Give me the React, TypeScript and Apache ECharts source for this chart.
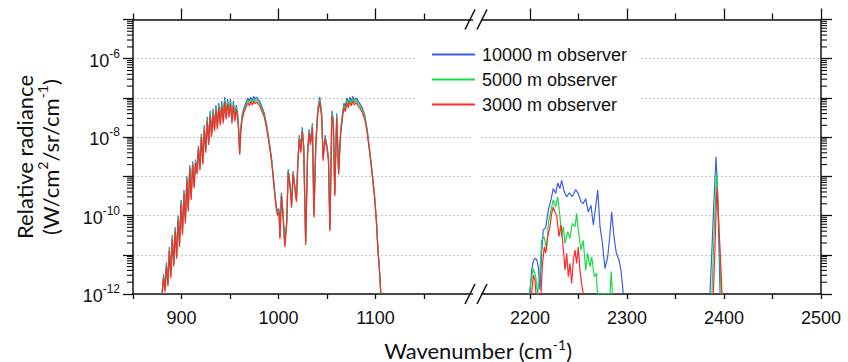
import React, { useEffect, useRef } from 'react';
import * as echarts from 'echarts';

// ---------- DATA (log10 of relative radiance) ----------
const seriesNames = ['10000 m observer', '5000 m observer', '3000 m observer'];
const seriesColors = ['#3a5fe8', '#19dc45', '#ff2a2a'];

// Left band (850-1200 cm-1), shared wavenumbers
const wnLeft = [880,881.5,883,884.5,886,887.5,889,890.5,892,893.5,895,896.5,898,899.5,901,902.5,904,905.5,907,908.5,910,911.5,913,914.5,916,917.5,919,920.5,922,923.5,925,926.5,928,929.5,931,932.5,934,935.5,937,938.5,940,941.5,943,944.5,946,947.5,949,950.5,952,953.5,955,956.5,958,959,960,961,962.5,964,965.5,967,968.5,970,971.5,973,974.5,976,977.5,979,981,983,985.5,988,990.5,993,995.5,997.5,999,1000.5,1001.5,1003,1004.5,1006.5,1008.5,1010,1012,1013.5,1015,1016.5,1018.5,1020,1021.5,1023,1024.5,1026,1028,1030,1031.5,1033,1035,1036.5,1038.5,1040.5,1042.5,1044.5,1046,1048,1050,1051.5,1053,1055,1056.5,1058,1060,1062,1064,1066,1067.5,1069,1070.5,1072,1073.5,1075,1076.5,1078,1080,1082,1084,1086.5,1089,1091.5,1094,1096.5,1099,1101,1102.5,1104,1105.5];
const logLeftBlue = [-12.0,-11.5,-11.85,-11.2,-11.7,-10.8,-11.5,-10.5,-11.2,-10.3,-11.0,-10.0,-10.7,-9.6,-10.4,-9.35,-10.1,-9.0,-9.8,-8.72,-9.5,-8.62,-9.2,-8.57,-8.87,-8.22,-8.77,-7.92,-8.62,-7.7,-8.32,-7.48,-8.12,-7.33,-7.92,-7.28,-7.75,-7.18,-7.7,-7.13,-7.6,-7.08,-7.55,-6.98,-7.43,-7.03,-7.38,-7.03,-7.55,-7.08,-7.48,-7.18,-7.43,-7.8,-8.37,-7.8,-7.43,-7.28,-7.18,-7.08,-7.0,-7.08,-6.98,-7.06,-6.96,-7.03,-6.98,-7.03,-7.1,-7.23,-7.4,-7.72,-8.12,-8.57,-9.22,-9.72,-9.92,-9.82,-10.52,-9.42,-9.87,-10.72,-10.12,-8.82,-9.22,-9.72,-8.87,-9.17,-9.57,-8.57,-7.95,-8.32,-7.75,-8.22,-10.67,-8.37,-7.8,-8.12,-7.65,-9.97,-8.12,-7.28,-6.98,-7.38,-8.52,-7.95,-8.22,-8.52,-10.32,-7.33,-7.55,-9.42,-7.4,-8.87,-7.85,-7.38,-7.13,-7.23,-7.0,-7.13,-6.98,-7.08,-6.96,-7.06,-7.0,-7.08,-7.15,-7.26,-7.45,-7.82,-8.32,-8.87,-9.47,-10.12,-10.82,-11.32,-12.0];
const logLeftGreen = [-12.0,-11.55,-11.9,-11.25,-11.75,-10.85,-11.55,-10.55,-11.25,-10.35,-11.05,-10.05,-10.75,-9.65,-10.45,-9.4,-10.15,-9.05,-9.85,-8.76,-9.55,-8.66,-9.25,-8.61,-8.91,-8.26,-8.81,-7.96,-8.66,-7.75,-8.36,-7.54,-8.16,-7.39,-7.96,-7.34,-7.8,-7.24,-7.75,-7.19,-7.65,-7.14,-7.6,-7.04,-7.49,-7.09,-7.44,-7.09,-7.6,-7.14,-7.54,-7.24,-7.49,-7.85,-8.41,-7.85,-7.49,-7.34,-7.24,-7.14,-7.06,-7.14,-7.04,-7.12,-7.02,-7.09,-7.04,-7.09,-7.16,-7.29,-7.45,-7.76,-8.16,-8.61,-9.26,-9.76,-9.96,-9.86,-10.56,-9.46,-9.91,-10.76,-10.16,-8.86,-9.26,-9.76,-8.91,-9.21,-9.61,-8.61,-8.0,-8.36,-7.8,-8.26,-10.71,-8.41,-7.85,-8.16,-7.7,-10.01,-8.16,-7.34,-7.04,-7.44,-8.56,-8.0,-8.26,-8.56,-10.36,-7.39,-7.6,-9.46,-7.45,-8.91,-7.9,-7.44,-7.19,-7.29,-7.06,-7.19,-7.04,-7.14,-7.02,-7.12,-7.06,-7.14,-7.21,-7.32,-7.5,-7.86,-8.36,-8.91,-9.51,-10.16,-10.86,-11.36,-12.0];
const logLeftRed = [-12.0,-11.6,-11.95,-11.3,-11.8,-10.9,-11.6,-10.6,-11.3,-10.4,-11.1,-10.1,-10.8,-9.7,-10.5,-9.45,-10.2,-9.1,-9.9,-8.8,-9.6,-8.7,-9.3,-8.65,-8.95,-8.3,-8.85,-8.0,-8.7,-7.8,-8.4,-7.6,-8.2,-7.45,-8.0,-7.4,-7.85,-7.3,-7.8,-7.25,-7.7,-7.2,-7.65,-7.1,-7.55,-7.15,-7.5,-7.15,-7.65,-7.2,-7.6,-7.3,-7.55,-7.9,-8.45,-7.9,-7.55,-7.4,-7.3,-7.2,-7.12,-7.2,-7.1,-7.18,-7.08,-7.15,-7.1,-7.15,-7.22,-7.35,-7.5,-7.8,-8.2,-8.65,-9.3,-9.8,-10.0,-9.9,-10.6,-9.5,-9.95,-10.8,-10.2,-8.9,-9.3,-9.8,-8.95,-9.25,-9.65,-8.65,-8.05,-8.4,-7.85,-8.3,-10.75,-8.45,-7.9,-8.2,-7.75,-10.05,-8.2,-7.4,-7.1,-7.5,-8.6,-8.05,-8.3,-8.6,-10.4,-7.45,-7.65,-9.5,-7.5,-8.95,-7.95,-7.5,-7.25,-7.35,-7.12,-7.25,-7.1,-7.2,-7.08,-7.18,-7.12,-7.2,-7.27,-7.38,-7.55,-7.9,-8.4,-8.95,-9.55,-10.2,-10.9,-11.4,-12.0];

// Right band (2150-2500 cm-1)
const wnRightBlue = [2200,2201.7,2203.5,2205.2,2207,2208.5,2210.3,2212,2213.7,2216.2,2218.9,2221.6,2224,2226.5,2228.5,2230.9,2232.6,2235.4,2237.8,2240.5,2243.6,2247.1,2249.8,2252.6,2254.9,2257.4,2260.1,2262.9,2265.3,2267.7,2269.8,2272.2,2274.5,2277.3,2280.1,2282.2,2284.2,2286.6,2289,2291.8,2293.8,2296.2];
const logRightBlue = [-12,-11.39,-11.15,-11.09,-11.12,-11.3,-11.9,-10.96,-10.37,-10.3,-9.86,-9.6,-9.31,-9.44,-9.17,-9.31,-9.1,-9.4,-9.52,-9.42,-9.52,-9.34,-9.44,-9.65,-9.69,-9.57,-9.91,-9.74,-10.24,-9.78,-9.35,-10.28,-10.67,-11.35,-11.05,-10.54,-9.91,-10.54,-10.96,-11.14,-11.39,-12];
const wnRightGreen = [2199,2201.7,2203.4,2205.9,2207.9,2210.3,2212,2214.7,2217.1,2218.9,2221.6,2224,2226.5,2228.5,2230.9,2232.6,2234.3,2236.1,2238.8,2241.2,2243.6,2246.4,2248.1,2249.8,2252.6,2254.9,2257.4,2259.4,2261.8,2263.6,2266.3,2268.4,2269.5,2282.5,2283.8,2284.9];
const logRightGreen = [-12,-11.56,-11.35,-11.56,-12,-11.39,-10.63,-10.54,-10.88,-10.2,-9.86,-9.6,-9.78,-9.52,-10.03,-10.54,-10.28,-10.71,-10.41,-10.58,-10.2,-10.28,-9.95,-10.37,-10.88,-10.63,-11.39,-10.96,-11.3,-11.05,-11.56,-11.47,-12,-12,-11.43,-12];
const wnRightRed = [2201.7,2203.4,2205.2,2206.2,2211.4,2212.7,2214.7,2216.2,2218.2,2220.6,2222.3,2224,2225.8,2227.5,2229.9,2231.9,2234.3,2236.1,2237.8,2239.5,2241.2,2242.9,2244.7,2246.4,2248.1,2249.8,2251.5,2253.2,2255];
const logRightRed = [-12,-11.52,-11.65,-12,-12,-11.3,-10.8,-10.96,-10.54,-10.28,-9.95,-9.78,-9.91,-9.99,-10.54,-10.24,-10.84,-11.39,-10.96,-11.56,-11.22,-11.73,-11.14,-10.88,-11.22,-10.8,-11.39,-11.73,-12];

// Narrow line near 2390 cm-1
const wnPeakBlue = [2385.5,2387.5,2389.5,2391.8,2393.2,2394.6,2396];
const logPeakBlue = [-12,-10.9,-9.7,-8.5,-9.3,-10.6,-12];
const wnPeakGreen = [2387.5,2389.3,2391,2392.5,2393.8,2395.4,2397];
const logPeakGreen = [-12,-10.8,-9.7,-8.9,-9.6,-10.8,-12];
const wnPeakRed = [2389,2390.6,2391.8,2392.8,2394,2396,2398];
const logPeakRed = [-12,-10.9,-9.9,-9.27,-9.9,-10.9,-12];

// Axis ticks / labels
const xLeftRange = [850, 1200];
const xRightRange = [2150, 2500];
const xLeftLabels = [900, 1000, 1100];
const xLeftMinor = [850, 950, 1050, 1150];
const xRightLabels = [2200, 2300, 2400, 2500];
const xRightMinor = [2250, 2350, 2450];
const yMin = 1e-12;
const yMax = 1e-5;
const yDecades = [-12, -11, -10, -9, -8, -7, -6];
const yMinorMultipliers = [2, 3, 4, 5, 6, 7, 8, 9];

// ---------- helpers ----------
const pairs = (wn: number[], lg: number[]) => wn.map((w, i) => [w, Math.pow(10, lg[i])]);
const withGap = (a: any[], b: any[]) => a.concat([[2340, '-']], b);

const TICK_FONT = "'Liberation Sans', Arial, sans-serif";
const TITLE_FONT = "Lato, 'Open Sans', sans-serif";
const BLACK = '#111';

const axLine = { color: BLACK, width: 1.5 };

function xAxisDef(grid: number, pos: string, range: number[], ticks: number[], len: number, showLine: boolean, labels?: number[]) {
  return {
    type: 'value',
    gridIndex: grid,
    position: pos,
    min: range[0],
    max: range[1],
    axisLine: { show: showLine, onZero: false, lineStyle: axLine },
    axisTick: { show: true, inside: false, length: len, customValues: ticks, lineStyle: { color: BLACK, width: 1.3 } },
    axisLabel: labels
      ? { show: true, customValues: labels, margin: 15, fontSize: 18, fontFamily: TICK_FONT, color: BLACK, formatter: (v: number) => String(v) }
      : { show: false },
    splitLine: { show: false },
  };
}

const minorTickValues: number[] = [];
yDecades.forEach((e) => yMinorMultipliers.forEach((k) => minorTickValues.push(k * Math.pow(10, e))));

function minorTickSeries(xIdx: number, yIdx: number, xVal: number, dir: number) {
  return {
    type: 'custom',
    xAxisIndex: xIdx,
    yAxisIndex: yIdx,
    silent: true,
    clip: false,
    z: 5,
    data: minorTickValues.map((v) => [xVal, v]),
    renderItem: (_p: any, api: any) => {
      const pt = api.coord([api.value(0), api.value(1)]);
      return {
        type: 'line',
        shape: { x1: pt[0], y1: pt[1], x2: pt[0] + dir * 6, y2: pt[1] },
        style: { stroke: BLACK, lineWidth: 1.1 },
      };
    },
  };
}

function lineSeries(name: string, color: string, xIdx: number, yIdx: number, data: any[]) {
  return {
    type: 'line',
    name,
    xAxisIndex: xIdx,
    yAxisIndex: yIdx,
    data,
    symbol: 'none',
    showSymbol: false,
    connectNulls: false,
    lineStyle: { color, width: 1.2 },
    itemStyle: { color },
    emphasis: { disabled: true },
  };
}

const splitDotted = { show: true, lineStyle: { color: '#b4b4b4', width: 1, type: [1.5, 2.5] } };

function buildOption() {
  const slash = (x1: number, y1: number, x2: number, y2: number) => ({
    type: 'line',
    shape: { x1, y1, x2, y2 },
    style: { stroke: BLACK, lineWidth: 1.5 },
    z: 100,
  });
  return {
    animation: false,
    grid: [
      { left: 133, top: 19.5, width: 339.5, height: 274.5 },
      { left: 481.5, top: 19.5, width: 339.5, height: 274.5 },
    ],
    xAxis: [
      xAxisDef(0, 'bottom', xLeftRange, xLeftMinor.concat(xLeftLabels), 5, true, xLeftLabels),
      xAxisDef(0, 'top', xLeftRange, xLeftLabels, 11, true),
      xAxisDef(0, 'top', xLeftRange, xLeftMinor, 6, false),
      xAxisDef(1, 'bottom', xRightRange, xRightMinor.concat(xRightLabels), 5, true, xRightLabels),
      xAxisDef(1, 'top', xRightRange, xRightLabels, 11, true),
      xAxisDef(1, 'top', xRightRange, xRightMinor, 6, false),
    ],
    yAxis: [
      {
        type: 'log',
        logBase: 10,
        gridIndex: 0,
        position: 'left',
        min: yMin,
        max: yMax,
        axisLine: { show: true, lineStyle: axLine },
        axisTick: { show: true, inside: false, length: 10, lineStyle: { color: BLACK, width: 1.3 } },
        axisLabel: {
          show: true,
          margin: 13,
          color: BLACK,
          formatter: (v: number) => {
            const e = Math.round(Math.log10(v));
            return e % 2 === 0 && e <= -6 ? `{b|10}{s|${e}}` : '';
          },
          rich: {
            b: { fontSize: 18, fontFamily: TICK_FONT, color: BLACK, lineHeight: 22, verticalAlign: 'bottom' },
            s: { fontSize: 12, fontFamily: TICK_FONT, color: BLACK, lineHeight: 13, verticalAlign: 'top' },
          },
        },
        splitLine: splitDotted,
      },
      {
        type: 'log',
        logBase: 10,
        gridIndex: 1,
        position: 'right',
        min: yMin,
        max: yMax,
        axisLine: { show: true, lineStyle: axLine },
        axisTick: { show: true, inside: false, length: 11, lineStyle: { color: BLACK, width: 1.3 } },
        axisLabel: { show: false },
        splitLine: splitDotted,
      },
    ],
    legend: {
      data: seriesNames,
      orient: 'vertical',
      left: 417,
      top: 41,
      padding: [3, 12, 3, 15],
      itemGap: 4,
      itemWidth: 43,
      itemHeight: 2,
      icon: 'rect',
      backgroundColor: '#fff',
      selectedMode: false,
      textStyle: { fontSize: 18, fontFamily: TICK_FONT, color: BLACK, padding: [0, 0, 0, 2], lineHeight: 21 },
    },
    series: [
      lineSeries(seriesNames[0], seriesColors[0], 0, 0, pairs(wnLeft, logLeftBlue)),
      lineSeries(seriesNames[1], seriesColors[1], 0, 0, pairs(wnLeft, logLeftGreen)),
      lineSeries(seriesNames[2], seriesColors[2], 0, 0, pairs(wnLeft, logLeftRed)),
      lineSeries(seriesNames[0], seriesColors[0], 3, 1, withGap(pairs(wnRightBlue, logRightBlue), pairs(wnPeakBlue, logPeakBlue))),
      lineSeries(seriesNames[1], seriesColors[1], 3, 1, withGap(pairs(wnRightGreen, logRightGreen), pairs(wnPeakGreen, logPeakGreen))),
      lineSeries(seriesNames[2], seriesColors[2], 3, 1, withGap(pairs(wnRightRed, logRightRed), pairs(wnPeakRed, logPeakRed))),
      minorTickSeries(0, 0, xLeftRange[0], -1),
      minorTickSeries(3, 1, xRightRange[1], 1),
    ],
    graphic: [
      {
        type: 'text',
        x: 35,
        y: 157,
        rotation: Math.PI / 2,
        style: {
          text: '{a|Relative radiance}\n{a|(W/cm}{s|2}{a|/sr/cm}{s|-1}{a|)}',
          align: 'center',
          verticalAlign: 'middle',
          rich: {
            a: { fontSize: 22, fontFamily: TITLE_FONT, fill: BLACK, lineHeight: 26, verticalAlign: 'bottom' },
            s: { fontSize: 14, fontFamily: TITLE_FONT, fill: BLACK, lineHeight: 17, verticalAlign: 'top' },
          },
        },
      },
      {
        type: 'text',
        x: 478,
        y: 349,
        style: {
          text: '{a|Wavenumber (cm}{s|-1}{a|)}',
          align: 'center',
          verticalAlign: 'middle',
          rich: {
            a: { fontSize: 22, fontFamily: TITLE_FONT, fill: BLACK, lineHeight: 24, verticalAlign: 'bottom' },
            s: { fontSize: 14, fontFamily: TITLE_FONT, fill: BLACK, lineHeight: 15, verticalAlign: 'top' },
          },
        },
      },
      slash(465, 29.5, 475, 9.5),
      slash(477, 29.5, 487, 9.5),
      slash(465, 304, 475, 284),
      slash(477, 304, 487, 284),
    ],
  };
}

export default function App() {
  const ref = useRef<HTMLDivElement>(null);
  useEffect(() => {
    if (!ref.current) return;
    const chart = echarts.init(ref.current, undefined, { renderer: 'svg' });
    chart.setOption(buildOption() as any);
    return () => chart.dispose();
  }, []);
  return (
    <div
      ref={ref}
      style={{ position: 'fixed', left: 0, top: 0, width: 848, height: 362, background: '#fff' }}
    />
  );
}
